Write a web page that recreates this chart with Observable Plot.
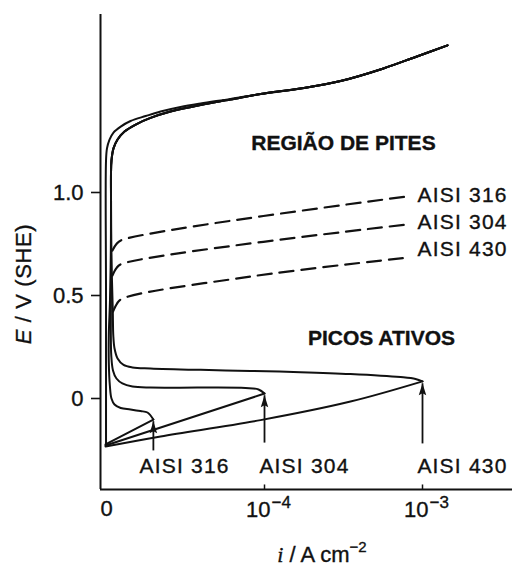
<!DOCTYPE html>
<html><head><meta charset="utf-8">
<script src="https://cdn.jsdelivr.net/npm/d3@7"></script>
<script src="https://cdn.jsdelivr.net/npm/@observablehq/plot@0.6"></script>
<style>html,body{margin:0;padding:0;background:#fff}</style>
</head><body><div id="chart"></div>
<script>
// current density i (A cm^-2) and potential E (V vs SHE)
const alloys = ["AISI 316", "AISI 304", "AISI 430"];

const cathodic316 = [[9.86e-6,-0.223],[1.98e-5,-0.102]];
const cathodic304 = [[9.86e-6,-0.228],[1.0e-4,0.024]];
const cathodic430 = [[9.86e-6,-0.233],[2.20e-5,-0.184],[9.44e-5,-0.105],[3.50e-4,-0.015],[1.0e-3,0.083]];

const return316 = [[1.98e-5,-0.102],[1.817e-5,-0.068],[1.64e-5,-0.061],[1.42e-5,-0.053],[1.23e-5,-0.046],
  [1.124e-5,-0.029],[1.075e-5,0.000],[1.050e-5,0.063],[1.034e-5,0.175],[1.034e-5,0.306],[1.052e-5,0.476],
  [1.065e-5,0.718],[1.068e-5,0.961]];
const return304 = [[1.0e-4,0.024],[9.17e-5,0.044],[7.58e-5,0.051],[3.94e-5,0.053],[1.90e-5,0.053],
  [1.46e-5,0.058],[1.26e-5,0.073],[1.156e-5,0.097],[1.099e-5,0.136],[1.072e-5,0.209],[1.065e-5,0.330],
  [1.068e-5,0.573],[1.068e-5,0.961]];
const return430 = [[1.0e-3,0.083],[9.04e-4,0.095],[7.26e-4,0.104],[3.50e-4,0.119],[1.69e-4,0.128],
  [8.15e-5,0.134],[3.94e-5,0.139],[1.90e-5,0.146],[1.46e-5,0.151],[1.282e-5,0.163],[1.175e-5,0.194],
  [1.124e-5,0.243],[1.104e-5,0.306],[1.096e-5,0.427],[1.083e-5,0.573],[1.072e-5,0.767],[1.068e-5,0.961]];

const outerBend = [[1.068e-5,1.097],[1.075e-5,1.155],[1.107e-5,1.214],[1.175e-5,1.257],[1.30e-5,1.296],
  [1.53e-5,1.330],[1.90e-5,1.362],[2.54e-5,1.393],[3.94e-5,1.425],[6.09e-5,1.451]];
const innerLine = [[9.93e-6,-0.228],[9.93e-6,0.5],[9.93e-6,1.155],[1.007e-5,1.214],[1.045e-5,1.257],
  [1.107e-5,1.291],[1.23e-5,1.320],[1.42e-5,1.347],[1.77e-5,1.371],[2.20e-5,1.393],[2.94e-5,1.415],
  [3.94e-5,1.432],[6.09e-5,1.454]];
const transpassive = [[9.44e-5,1.478],[1.69e-4,1.505],[3.03e-4,1.541],[5.66e-4,1.602],[9.04e-4,1.658],[1.44e-3,1.714]];

const pitting316 = [[1.09e-5,0.718],[1.156e-5,0.750],[1.245e-5,0.769],[8.04e-4,0.981]];
const pitting304 = [[1.09e-5,0.597],[1.156e-5,0.633],[1.245e-5,0.653],[8.04e-4,0.845]];
const pitting430 = [[1.099e-5,0.422],[1.166e-5,0.461],[1.245e-5,0.483],[8.15e-5,0.592],[8.04e-4,0.684]];

const peakI = [1.98e-5, 1.0e-4, 1.0e-3];
const arrowBaseE = [-0.252, -0.214, -0.218];
const arrowTipE = [-0.110, 0.016, 0.074];
const peakLabelI = [3.12e-5, 1.79e-4, 1.79e-3];
const peakLabelE = [-0.330, -0.330, -0.330];
const pitLabelI = [8.04e-4, 8.04e-4, 8.04e-4];
const pitLabelE = [0.985, 0.854, 0.722];

const regionText = ["REGIÃO DE PITES", "PICOS ATIVOS"];
const regionI = [3.16e-4, 5.5e-4];
const regionE = [1.238, 0.291];

const yTicks = [0, 0.5, 1.0];
const xTicks = [1e-5, 1e-4, 1e-3];
const xTickBase = ["0", "10", "10"];
const xTickExp = ["", "−4", "−3"];
const xDomain = [Math.pow(10, -5.038), Math.pow(10, -2.4304)];
const yDomain = [-0.4417, 1.864];

// build tables
const toRows = (pts, seg) => pts.map(([i, E]) => ({seg, i, E}));
const smoothRows = [
  ...toRows([...return316, ...outerBend, ...transpassive], "316"),
  ...toRows([...return304, ...outerBend, ...transpassive], "304"),
  ...toRows([...return430, ...outerBend, ...transpassive], "430"),
  ...toRows([...innerLine, ...transpassive], "inner"),
  ...toRows(cathodic430, "c430")
];
const straightRows = [...toRows(cathodic316, "c316"), ...toRows(cathodic304, "c304")];
const dashRows = [...toRows(pitting316, "p316"), ...toRows(pitting304, "p304"), ...toRows(pitting430, "p430")];
const arrows = alloys.map((a, k) => ({a, i: peakI[k], E0: arrowBaseE[k], E1: arrowTipE[k]}));
const peakLabels = alloys.map((a, k) => ({a, i: peakLabelI[k], E: peakLabelE[k]}));
const pitLabels = alloys.map((a, k) => ({a, i: pitLabelI[k], E: pitLabelE[k]}));
const regions = regionText.map((t, k) => ({t, i: regionI[k], E: regionE[k]}));

// narrow filled arrowhead whose tip is at the anchor point
const arrowHead = {
  draw(ctx, size) {
    const r = Math.sqrt(size / Math.PI);
    ctx.moveTo(0, 0);
    ctx.lineTo(-r * 0.75, r * 2.4);
    ctx.lineTo(0, r * 2.0);
    ctx.lineTo(r * 0.75, r * 2.4);
    ctx.closePath();
  }
};

const ink = "#111";
const chart = Plot.plot({
  width: 512, height: 576,
  marginLeft: 100, marginRight: 0, marginTop: 14, marginBottom: 87,
  style: {fontFamily: "'Liberation Sans', Arial, Helvetica, sans-serif", color: ink, background: "#fff"},
  x: {type: "log", domain: xDomain, axis: null},
  y: {domain: yDomain},
  marks: [
    Plot.axisY({ticks: yTicks, tickSize: 9, tickPadding: 8, fontSize: 22, strokeWidth: 1.6,
      tickFormat: d => d === 0 ? "0" : d.toFixed(1), label: null}),
    Plot.ruleX([xDomain[0]], {stroke: ink, strokeWidth: 2}),
    Plot.ruleY([yDomain[0]], {stroke: ink, strokeWidth: 2}),
    Plot.ruleX(xTicks.slice(1), {y1: yDomain[0], y2: yDomain[0] + 0.022, stroke: ink, strokeWidth: 1.5}),
    Plot.text(xTicks.slice(0, 1), {x: d => d, text: xTickBase.slice(0, 1), frameAnchor: "bottom", dy: 26, fontSize: 22, textAnchor: "middle", fill: ink}),
    Plot.text(xTicks.slice(1), {x: d => d, text: xTickBase.slice(1), frameAnchor: "bottom", dy: 27, dx: 6, fontSize: 22, textAnchor: "end", fill: ink}),
    Plot.text(xTicks.slice(1), {x: d => d, text: xTickExp.slice(1), frameAnchor: "bottom", dy: 18, dx: 7, fontSize: 17, textAnchor: "start", fill: ink}),
    Plot.line(smoothRows, {x: "i", y: "E", z: "seg", curve: "catmull-rom", stroke: ink, strokeWidth: 2}),
    Plot.line(straightRows, {x: "i", y: "E", z: "seg", stroke: ink, strokeWidth: 2}),
    Plot.line(dashRows, {x: "i", y: "E", z: "seg", curve: "catmull-rom", stroke: ink, strokeWidth: 2.2, strokeDasharray: "14 8"}),
    Plot.link(arrows, {x1: "i", x2: "i", y1: "E0", y2: "E1", stroke: ink, strokeWidth: 1.8}),
    Plot.dot(arrows, {x: "i", y: "E1", symbol: arrowHead, r: 5, fill: ink, stroke: "none"}),
    Plot.text(peakLabels, {x: "i", y: "E", text: "a", fontSize: 21, fill: ink}),
    Plot.text(pitLabels, {x: "i", y: "E", text: "a", dx: 10, textAnchor: "start", fontSize: 21, fill: ink}),
    Plot.text(regions, {x: "i", y: "E", text: "t", fontSize: 21, fontWeight: "bold", fill: ink})
  ]
});
document.getElementById("chart").appendChild(chart);

const svg = d3.select(chart);
svg.selectAll("text").filter(function() { return this.textContent.startsWith("AISI"); })
  .attr("letter-spacing", "1.2");
svg.selectAll("text").attr("stroke", ink).attr("stroke-width", 0.35);
// axis titles
const yt = svg.append("text")
  .attr("transform", "translate(25,284) rotate(-90)")
  .attr("text-anchor", "middle").attr("dominant-baseline", "middle")
  .attr("font-size", 22).attr("fill", ink).attr("stroke", ink).attr("stroke-width", 0.35)
  .attr("letter-spacing", "0.6");
yt.append("tspan").attr("font-style", "italic").text("E");
yt.append("tspan").text(" / V (SHE)");
const xt = svg.append("text")
  .attr("x", 322).attr("y", 562)
  .attr("text-anchor", "middle")
  .attr("font-size", 22).attr("fill", ink).attr("stroke", ink).attr("stroke-width", 0.35);
xt.append("tspan").attr("font-style", "italic").attr("font-family", "'Liberation Serif', serif").text("i");
xt.append("tspan").text(" / A cm");
xt.append("tspan").attr("font-size", 15).attr("dy", -10).text("−2");
</script></body></html>
